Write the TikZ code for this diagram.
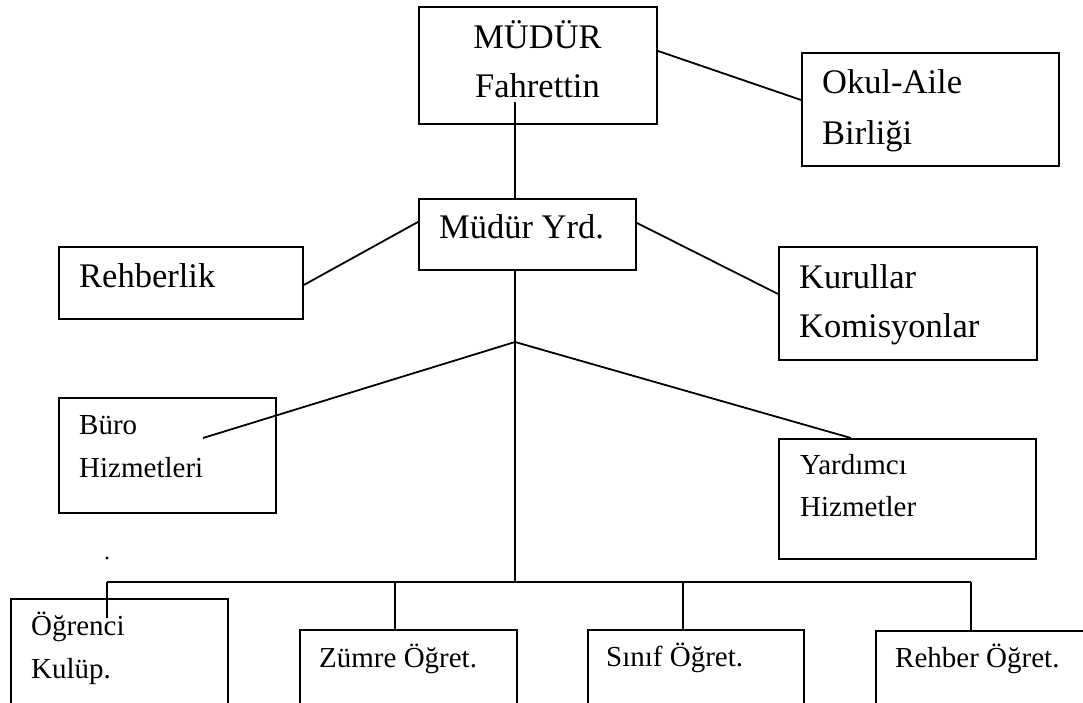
\documentclass[tikz,border=0pt]{standalone}
\usepackage{fontspec}
\setmainfont{Liberation Serif}
\tikzset{
  box/.style={draw=black, line width=1.9pt, anchor=north west, inner sep=0pt},
  link/.style={draw=black, line width=1.8pt},
  big/.style={inner sep=0pt, font=\fontsize{34.5}{40}\selectfont},
  small/.style={inner sep=0pt, font=\fontsize{29}{34}\selectfont},
}
\newcommand{\mkbox}[5]{\node[box, minimum width={#4-#2}, minimum height={#5-#3}] (#1) at (#2,#3) {};}
\begin{document}
\begin{tikzpicture}[x=1pt,y=-1pt]
\path[use as bounding box, clip] (0,0) rectangle (1083,702);
\fill[white] (0,0) rectangle (1083,702);
% boxes
\mkbox{mudur}{418}{6}{656}{123}
\mkbox{okul}{801}{52}{1058}{165}
\mkbox{yrd}{418}{198}{635}{269}
\mkbox{rehberlik}{58}{246}{302}{318}
\mkbox{kurul}{778}{246}{1036}{359}
\mkbox{buro}{58}{397}{275}{512}
\mkbox{yardimci}{778}{438}{1035}{558}
\mkbox{ogrenci}{10}{598}{227}{712}
\mkbox{zumre}{299}{629}{516}{712}
\mkbox{sinif}{587}{629}{803}{712}
\mkbox{rehber}{875}{630}{1095}{712}
% texts
\node[big, anchor=base] (t1) at (537.5,48) {MÜDÜR};
\node[big, anchor=base] (t2) at (537.5,97) {Fahrettin};
\node[big, anchor=base west] (t3) at (822,93) {Okul-Aile};
\node[big, anchor=base west] (t4) at (822,144) {Birliği};
\node[big, anchor=base west] (t5) at (439,238) {Müdür Yrd.};
\node[big, anchor=base west] (t6) at (79,287) {Rehberlik};
\node[big, anchor=base west] (t7) at (799,288) {Kurullar};
\node[big, anchor=base west] (t8) at (799,337) {Komisyonlar};
\node[small, anchor=base west] (t9) at (79,434) {Büro};
\node[small, anchor=base west] (t10) at (79,477) {Hizmetleri};
\node[small, anchor=base west] (t11) at (800,474) {Yardımcı};
\node[small, anchor=base west] (t12) at (800,516) {Hizmetler};
\node[small, anchor=base west] (t13) at (31,635) {Öğrenci};
\node[small, anchor=base west] (t14) at (31,678) {Kulüp.};
\node[small, anchor=base west] (t15) at (319,667) {Zümre Öğret.};
\node[small, anchor=base west] (t16) at (606,666) {Sınıf Öğret.};
\node[small, anchor=base west] (t17) at (895,667) {Rehber Öğret.};
% coordinates
\coordinate (mtop) at (515,102);
\coordinate (branch) at (515,342);
\coordinate (buroend) at (203,438);
\coordinate (busL) at (107,582);
\coordinate (busM) at (515,582);
\coordinate (busR) at (971,582);
\coordinate (ogrend) at (107,618);
\coordinate (dz) at (395,582);
\coordinate (ds) at (683,582);
\coordinate (dot) at (107,558);
% connectors
\draw[link] ([yshift=14.5pt]mudur.east) -- ([yshift=9.5pt]okul.west);
\draw[link] (mtop) -- (mtop |- yrd.north);
\draw[link] ([yshift=12.5pt]yrd.west) -- ([yshift=-2pt]rehberlik.east);
\draw[link] ([yshift=11.5pt]yrd.east) -- ([yshift=9.5pt]kurul.west);
\draw[link] (mtop |- yrd.south) -- (branch);
\draw[link] (branch) -- (buroend);
\draw[link] (branch) -- ([xshift=-56.5pt]yardimci.north);
\draw[link] (branch) -- (busM);
\draw[link] (busL) -- (busR);
\draw[link] (busL) -- (ogrend);
\draw[link] (dz) -- (dz |- zumre.north);
\draw[link] (ds) -- (ds |- sinif.north);
\draw[link] (busR) -- (busR |- rehber.north);
\fill[black] (dot) circle (1.6pt);
\end{tikzpicture}
\end{document}
